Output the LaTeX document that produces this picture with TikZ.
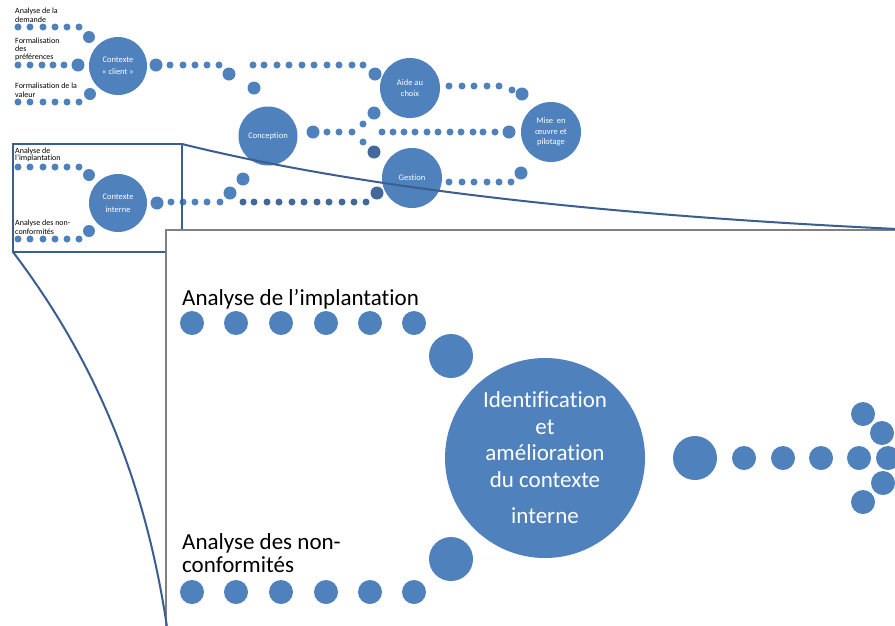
\documentclass[tikz,border=0pt]{standalone}
\usepackage{fontspec}
\setmainfont{Carlito}[Ligatures={NoCommon}]
\definecolor{dotblue}{RGB}{79,129,189}
\definecolor{darkdot}{RGB}{66,104,156}
\definecolor{zoomline}{RGB}{58,94,143}
\definecolor{boxgray}{RGB}{128,128,128}
\tikzset{
  bigc/.style={circle, fill=dotblue, text=white, align=center, inner sep=0pt},
  lbl/.style={anchor=west, inner sep=0pt, text=black, font=\fontsize{8}{9}\selectfont},
  biglbl/.style={anchor=base west, inner sep=0pt, text=black, font=\fontsize{23}{24}\selectfont},
  ctext/.style={font=\fontsize{8.5}{11}\selectfont},
  zoom/.style={draw=zoomline, line width=2pt},
}
\newcommand\drow[4]{\foreach \xx in {#1} {\fill[#4] (\xx,#2) circle (#3pt);}}
\begin{document}
\begin{tikzpicture}[x=1pt,y=-1pt]
\useasboundingbox (0,0) rectangle (895,625);
\clip (0,0) rectangle (895,625);
\fill[white] (0,0) rectangle (895,625);

% ---------- small diagram: client context ----------
\node[lbl] (l1a) at (15,11) {Analyse de la};
\node[lbl] (l1b) at (15,20) {demande};
\drow{18,30,43,55,67,79}{27}{3.5}{dotblue}
\fill[dotblue] (89,37) circle (6pt);
\node[lbl] (l2a) at (15,41) {Formalisation};
\node[lbl] (l2b) at (15,49) {des};
\node[lbl] (l2c) at (15,57) {préférences};
\drow{18,30,42,53,64}{65}{3.5}{dotblue}
\fill[dotblue] (78,65) circle (6.5pt);
\node[lbl] (l3a) at (15,86) {Formalisation de la};
\node[lbl] (l3b) at (15,95) {valeur};
\drow{18,30,43,55,67,79}{102}{3.5}{dotblue}
\fill[dotblue] (90,94) circle (6pt);
\node[bigc, minimum size=58pt, font=\fontsize{8.5}{12}\selectfont] (cc) at (118,66) {Contexte\\« client »};

\fill[dotblue] (156,65) circle (6.5pt);
\drow{170,183,195,207,219}{65}{3.5}{dotblue}
\fill[dotblue] (229,74) circle (6.5pt);
\fill[dotblue] (254,88) circle (6.5pt);
\drow{253,264,277,289,302,314,327,339,352,363}{65}{3.5}{dotblue}
\fill[dotblue] (375,74) circle (6.5pt);

\node[bigc, minimum size=59pt, ctext] (conc) at (268,136) {Conception};
\fill[dotblue] (313,132) circle (6.5pt);
\drow{327,339,352}{132}{3.5}{dotblue}
\fill[dotblue] (363,124) circle (3.5pt);
\fill[dotblue] (363,142) circle (3.5pt);
\fill[dotblue] (374,113) circle (6.5pt);
\fill[darkdot] (374,152) circle (6.5pt);
\drow{382,393,404,415,427,438,450,461,473,483,495}{132}{3.5}{dotblue}
\fill[dotblue] (509,132) circle (6.5pt);

\node[bigc, minimum size=60pt, font=\fontsize{8.5}{10.5}\selectfont] (aide) at (410,88) {Aide au\\choix};
\drow{449,462,474,487,499}{86}{3.5}{dotblue}
\fill[dotblue] (512,90) circle (3.5pt);
\fill[dotblue] (522,94) circle (6.5pt);

\node[bigc, minimum size=60pt, font=\fontsize{8.5}{10.5}\selectfont] (mise) at (551,132) {Mise\ \ en\\œuvre et\\pilotage};

\node[bigc, minimum size=60pt, ctext] (gest) at (412,178) {Gestion};
\drow{449,462,474,487,499,511}{182}{3.5}{dotblue}
\fill[dotblue] (521,173) circle (6.5pt);

% ---------- small diagram: internal context ----------
\node[lbl] (l4a) at (15,151) {Analyse de};
\node[lbl] (l4b) at (15,158) {l’implantation};
\drow{18,30,43,55,67,79}{167}{3.5}{dotblue}
\fill[dotblue] (89,175) circle (6pt);
\node[lbl] (l5a) at (15,223) {Analyse des non-};
\node[lbl] (l5b) at (15,232) {conformités};
\drow{18,30,43,55,67,79}{239}{3.5}{dotblue}
\fill[dotblue] (89,231) circle (6pt);
\node[bigc, minimum size=58pt, font=\fontsize{8.5}{13}\selectfont] (ci) at (118,203) {Contexte\\interne};
\fill[dotblue] (157,203) circle (6.5pt);
\drow{171,183,195,207,220}{202}{3.5}{dotblue}
\fill[dotblue] (230,193) circle (6.5pt);
\fill[dotblue] (243,179) circle (6.5pt);
\drow{243,254,267,279,292,304,317,329,342,354,366}{202}{3.5}{darkdot}
\fill[darkdot] (377,193) circle (6.5pt);

% ---------- zoom frame ----------
\draw[zoom] (13,144) rectangle (182,252);
\filldraw[fill=white, draw=boxgray, line width=1.5pt] (166,230) rectangle (905,640);

% ---------- enlarged diagram ----------
\node[biglbl] (b1) at (182,305) {Analyse de l’implantation};
\drow{192,236,281,326,370,414}{323}{12}{dotblue}
\fill[dotblue] (451,356) circle (22pt);
\node[biglbl, align=left, font=\fontsize{23}{23.5}\selectfont, anchor=west] (b2) at (182,553) {Analyse des non-\\conformités};
\drow{192,236,281,326,370,414}{592}{12}{dotblue}
\fill[dotblue] (451,559) circle (22pt);
\node[bigc, minimum size=200pt, font=\fontsize{23}{26.5}\selectfont] (ident) at (545,458) {Identification\\et\\amélioration\\du contexte\\[10pt]interne};
\fill[dotblue] (695,458) circle (22pt);
\drow{744,783,821,859,888}{458}{12}{dotblue}
\fill[dotblue] (863,414) circle (12pt);
\fill[dotblue] (882,433) circle (12pt);
\fill[dotblue] (883,483) circle (12pt);
\fill[dotblue] (863,502) circle (12pt);

% ---------- zoom lines ----------
\coordinate (tr) at (182,144);
\coordinate (bl) at (13,252);
\coordinate (e1) at (897,229);
\coordinate (e2) at (167,627);
\draw[zoom] (tr) .. controls (360,188) and (600,215) .. (e1);
\draw[zoom] (bl) .. controls (95,360) and (145,480) .. (e2);
\end{tikzpicture}
\end{document}
